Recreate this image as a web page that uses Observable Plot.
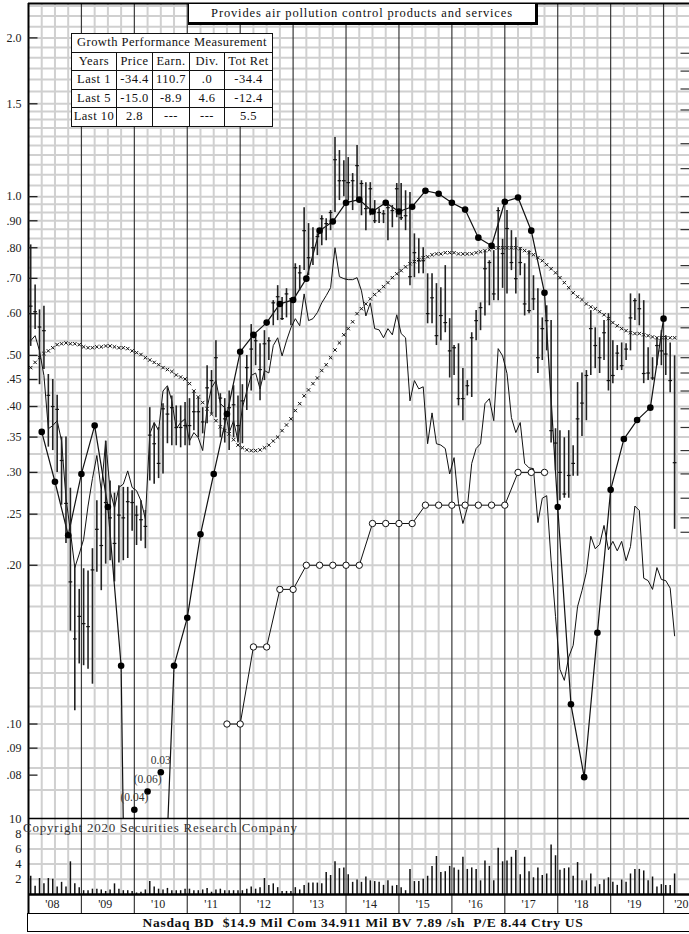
<!DOCTYPE html>
<html><head><meta charset="utf-8">
<script src="https://cdn.jsdelivr.net/npm/d3@7"></script>
<script src="https://cdn.jsdelivr.net/npm/@observablehq/plot@0.6"></script>
<style>
body{margin:0;background:#fff;}
#wrap{position:relative;width:689px;height:934px;overflow:hidden;font-family:"Liberation Serif","Times New Roman",serif;color:#111;}
#wrap svg{position:absolute;left:0;}
#title{position:absolute;left:188px;top:3px;width:346px;height:18px;border:1.5px solid #000;border-right-width:3px;border-bottom-width:3px;background:#fff;font-size:12.5px;letter-spacing:0.85px;text-align:center;line-height:18px;white-space:nowrap;}
#growth{position:absolute;left:71px;top:33px;border-collapse:collapse;background:#fff;table-layout:fixed;}
#growth td{border:1.5px solid #111;padding:0;height:17.5px;font-size:12.5px;letter-spacing:0.5px;text-align:center;line-height:17px;white-space:nowrap;overflow:hidden;}
#growth .hd{font-size:12.5px;letter-spacing:0.45px;text-align:center;}
#copy{position:absolute;left:23px;top:820px;font-size:13px;letter-spacing:0.8px;color:#333;white-space:nowrap;}
#info{position:absolute;left:27px;top:913px;width:670px;height:17px;border:1.5px solid #000;background:#fff;font-weight:bold;font-size:13.5px;letter-spacing:0.7px;line-height:17px;text-align:center;padding-right:12px;white-space:pre;}
</style></head><body><div id="wrap"></div>
<script>
// ---------- data ----------
const titleText = "Provides air pollution control products and services";
const infoText = "Nasdaq BD  $14.9 Mil Com 34.911 Mil BV 7.89 /sh  P/E 8.44 Ctry US";
const copyText = "Copyright 2020 Securities Research Company";
const growthTitle = "Growth Performance Measurement";
const growthHead = ["Years","Price","Earn.","Div.","Tot Ret"];
const growthRows = [
  ["Last 1","-34.4","110.7",".0","-34.4"],
  ["Last 5","-15.0","-8.9","4.6","-12.4"],
  ["Last 10","2.8","---","---","5.5"]
];
// monthly price bars, Jan 2008 .. Mar 2020
const hi = [0.81,0.68,0.61,0.62,0.46,0.45,0.42,0.35,0.35,0.28,0.20,0.18,
 0.197,0.195,0.215,0.265,0.277,0.344,0.289,0.274,0.283,0.281,0.281,0.277,
 0.259,0.265,0.254,0.398,0.372,0.365,0.405,0.434,0.419,0.401,0.401,0.407,
 0.414,0.428,0.416,0.398,0.478,0.468,0.533,0.423,0.414,0.428,0.438,0.419,
 0.44,0.50,0.572,0.55,0.526,0.557,0.54,0.635,0.678,0.644,0.669,0.64,
 0.746,0.74,0.953,0.889,0.873,0.85,0.92,0.908,0.941,1.294,1.223,1.17,
 1.186,1.106,1.25,1.072,1.063,1.063,0.983,0.949,0.941,0.97,0.962,1.059,
 1.059,1.026,1.018,0.85,0.832,0.80,0.714,0.714,0.684,0.672,0.74,0.587,
 0.522,0.526,0.472,0.448,0.552,0.608,0.629,0.79,0.756,0.79,0.953,0.83,
 0.941,0.862,0.836,0.80,0.746,0.79,0.708,0.669,0.589,0.621,0.582,0.363,
 0.36,0.349,0.36,0.337,0.444,0.463,0.468,0.608,0.564,0.54,0.582,0.60,
 0.533,0.522,0.528,0.526,0.654,0.64,0.654,0.635,0.517,0.495,0.54,0.557,
 0.545,0.528,0.499];
const lo = [0.52,0.56,0.44,0.47,0.335,0.33,0.30,0.26,0.22,0.15,0.106,0.13,
 0.129,0.127,0.119,0.194,0.179,0.201,0.204,0.186,0.202,0.204,0.206,0.232,
 0.218,0.222,0.215,0.289,0.285,0.292,0.298,0.340,0.337,0.337,0.334,0.337,
 0.337,0.360,0.349,0.355,0.371,0.387,0.381,0.349,0.341,0.330,0.349,0.341,
 0.34,0.393,0.428,0.478,0.41,0.448,0.489,0.569,0.582,0.582,0.589,0.569,
 0.635,0.663,0.724,0.708,0.74,0.773,0.807,0.825,0.862,0.933,0.983,1.0,
 0.983,0.941,0.983,0.92,0.862,0.92,0.889,0.889,0.889,0.825,0.873,0.912,
 0.901,0.862,0.678,0.702,0.714,0.714,0.574,0.574,0.522,0.533,0.552,0.453,
 0.458,0.401,0.376,0.419,0.416,0.533,0.557,0.594,0.621,0.635,0.635,0.67,
 0.654,0.724,0.654,0.708,0.594,0.60,0.608,0.462,0.489,0.51,0.341,0.302,
 0.265,0.268,0.268,0.295,0.295,0.351,0.376,0.458,0.472,0.462,0.489,0.428,
 0.442,0.468,0.468,0.489,0.51,0.582,0.569,0.442,0.448,0.448,0.478,0.478,
 0.458,0.425,0.234];
const cl = [0.62,0.605,0.566,0.557,0.42,0.40,0.395,0.316,0.262,0.186,0.145,0.16,
 0.155,0.153,0.196,0.234,0.218,0.263,0.246,0.220,0.249,0.246,0.264,0.263,
 0.249,0.244,0.237,0.353,0.340,0.312,0.396,0.387,0.398,0.365,0.365,0.368,
 0.368,0.391,0.391,0.374,0.434,0.448,0.495,0.415,0.379,0.398,0.403,0.368,
 0.41,0.474,0.514,0.533,0.47,0.526,0.533,0.629,0.646,0.587,0.654,0.64,
 0.733,0.717,0.862,0.766,0.80,0.84,0.908,0.889,0.933,1.175,1.072,1.072,
 1.063,1.072,1.145,1.059,0.949,1.035,0.90,0.933,0.928,0.953,0.941,1.035,
 0.912,0.92,0.705,0.783,0.756,0.756,0.60,0.643,0.545,0.595,0.577,0.51,
 0.517,0.414,0.414,0.438,0.54,0.582,0.616,0.73,0.75,0.654,0.941,0.78,
 0.87,0.75,0.699,0.75,0.626,0.608,0.64,0.495,0.562,0.582,0.36,0.341,
 0.30,0.273,0.296,0.312,0.379,0.406,0.458,0.562,0.522,0.495,0.552,0.448,
 0.458,0.505,0.478,0.514,0.589,0.635,0.613,0.462,0.463,0.453,0.522,0.51,
 0.503,0.448,0.313];
// moving average (x marks), monthly
const ma = [.474,.485,.495,.504,.51,.517,.524,.526,.528,.526,.526,.524,
 .519,.517,.517,.519,.519,.521,.521,.519,.517,.517,.515,.51,
 .506,.502,.495,.49,.485,.48,.474,.47,.466,.459,.455,.451,
 .442,.428,.417,.407,.396,.387,.376,.366,.36,.355,.346,.338,
 .334,.331,.33,.33,.331,.334,.338,.344,.35,.36,.369,.379,
 .393,.405,.419,.43,.442,.453,.468,.48,.495,.512,.528,.547,
 .562,.579,.60,.613,.626,.64,.652,.663,.675,.687,.702,.714,
 .724,.736,.746,.753,.759,.766,.769,.776,.779,.779,.783,.783,
 .783,.779,.779,.779,.779,.783,.786,.79,.793,.80,.80,.80,
 .80,.80,.80,.797,.79,.783,.776,.766,.756,.743,.73,.717,
 .702,.687,.672,.657,.646,.638,.626,.618,.613,.605,.597,.587,
 .577,.569,.562,.557,.552,.55,.55,.547,.545,.542,.54,.54,
 .54,.54,.54];
// relative strength (thin line), monthly
const rs = [.533,.545,.51,.458,.363,.368,.376,.344,.268,.232,.198,.21,
 .224,.259,.292,.323,.277,.344,.277,.257,.281,.285,.302,.281,
 .277,.265,.245,.355,.373,.36,.428,.438,.41,.363,.373,.379,
 .344,.357,.349,.33,.398,.434,.448,.405,.398,.357,.376,.344,
 .398,.428,.458,.463,.432,.468,.463,.522,.54,.499,.533,.564,
 .587,.569,.654,.582,.587,.603,.629,.649,.672,.80,.705,.699,
 .696,.696,.702,.663,.594,.629,.562,.559,.54,.562,.547,.597,
 .55,.54,.41,.448,.432,.436,.34,.389,.34,.338,.333,.298,
 .32,.262,.24,.257,.312,.333,.34,.405,.414,.376,.515,.499,
 .462,.381,.357,.373,.312,.306,.305,.241,.268,.271,.204,.16,
 .127,.121,.134,.141,.167,.179,.194,.227,.215,.219,.238,.214,
 .222,.213,.222,.204,.217,.259,.254,.189,.187,.18,.198,.188,
 .187,.181,.147];
// monthly volume
const vol = [2.4,1.1,2.1,1.4,2.1,2.0,1.0,1.6,1.0,4.3,1.4,0.9,
 0.5,0.5,0.7,0.7,0.6,0.4,0.6,1.4,0.7,0.5,0.5,0.4,
 0.2,0.3,0.6,1.7,1.0,0.7,0.6,0.8,0.5,0.5,0.5,0.7,
 0.7,0.5,0.5,0.6,0.8,0.3,0.6,0.7,0.5,0.5,0.5,0.5,
 0.5,0.7,1.0,0.7,0.9,2.1,1.2,1.4,0.9,0.4,0.4,0.4,
 0.9,0.6,1.2,1.5,1.5,1.5,1.4,2.9,2.5,4.3,3.4,3.5,
 2.6,1.6,1.9,1.6,2.3,1.8,1.7,1.6,1.2,1.8,1.1,1.2,
 0.9,0.5,3.3,1.7,1.7,2.0,2.4,3.7,5.0,2.9,3.0,3.7,
 3.5,3.2,4.9,3.3,3.5,3.3,1.8,4.4,3.7,1.8,6.1,4.3,
 4.4,4.9,5.8,2.6,4.9,3.0,2.2,3.5,2.5,2.7,6.5,5.1,
 3.2,3.4,3.5,2.4,4.2,1.8,1.8,2.7,1.0,1.3,1.9,2.2,
 1.6,1.2,1.9,1.6,2.7,3.3,3.3,3.1,1.8,2.3,1.0,1.3,
 1.2,1.2,2.7];
// quarterly earnings, 2008.25 .. 2020.0 (negatives shown as labelled dots)
const earnStart = 2008.25;
const earn = [0.358,0.288,0.228,0.298,0.368,0.258,0.129,-0.04,-0.06,0.03,0.129,0.159,
 0.229,0.298,0.387,0.508,0.547,0.577,0.626,0.637,0.699,0.862,0.897,0.974,
 0.987,0.937,0.974,0.937,0.957,1.026,1.013,0.974,0.945,0.836,0.807,0.978,
 0.996,0.862,0.657,0.258,0.109,0.0793,0.149,0.278,0.347,0.377,0.398,0.587];
const lowEarnQ = [2010.0, 2010.25, 2010.5];
const lowEarnPos = [0.0688, 0.0745, 0.081];
const lowEarnLabel = ["(0.04)", "(0.06)", "0.03"];
// quarterly dividends 2011.75 .. 2017.75
const divStart = 2011.75;
const divs = [0.10,0.10,0.14,0.14,0.18,0.18,0.20,0.20,0.20,0.20,0.20,0.24,0.24,0.24,0.24,
 0.26,0.26,0.26,0.26,0.26,0.26,0.26,0.30,0.30,0.30];
// axes / grid
const priceLabels = [2.0,1.5,1.0,0.9,0.8,0.7,0.6,0.5,0.45,0.4,0.35,0.3,0.25,0.2,0.1,0.09,0.08];
const priceGrid = [2.3,2.2,2.1,2.0,1.917,1.833,1.75,1.667,1.583,1.5,1.45,1.4,1.35,1.3,1.25,1.2,1.15,1.1,1.05,1.0,
 .967,.933,.90,.867,.833,.80,.767,.733,.70,.667,.633,.60,.567,.533,.50,.475,.45,.425,.40,.375,.35,.325,.30,.275,.25,.225,.20,
 .183,.167,.15,.133,.125,.117,.108,.10,.09,.0825,.075];
const rightTicks = [1.87,1.73,1.6,1.46,1.26,1.13,1.0,.933,.866,.74,.684,.616,.564,.495,.463,.428,.396,.365,.33,.298,.268,.246,.231];
const volTicks = [2,4,6,8,10];
const volGrid = [2,4,6,8];
const yearLabels = ["'08","'09","'10","'11","'12","'13","'14","'15","'16","'17","'18","'19","'20"];

// ---------- build ----------
const t0 = 2008, t1 = 2020.49;
const mt = i => 2008 + (i + 0.5) / 12;
const bars = hi.map((h, i) => ({t: mt(i), h, l: lo[i], c: cl[i]}));
const maD = ma.map((v, i) => ({t: mt(i), v}));
const rsD = rs.map((v, i) => ({t: mt(i), v}));
const volD = vol.map((v, i) => ({t: mt(i), v}));
const earnD = earn.map((v, i) => ({t: earnStart + 0.25 * i, v}));
const earnLine = earnD.map(d => ({t: d.t, v: d.v > 0 ? d.v : 0.002}));
const yMin = 0.0662, yMax = 2.324;
const earnDots = earnD.filter(d => d.v > yMin);
const lowEarn = lowEarnQ.map((t, i) => ({t, pos: lowEarnPos[i], label: lowEarnLabel[i]}));
const divD = divs.map((v, i) => ({t: divStart + 0.25 * i, v}));
const years = d3.range(2009, 2021);
const quarters = d3.range(2008.25, t1, 0.25).filter(q => q % 1 !== 0);
const yl = yearLabels.map((s, i) => ({t: 2008.45 + i, s}));
const ylMain = yl.slice(0, -1), ylLast = yl.slice(-1);
const fmt = d => d >= 1 ? d.toFixed(1) : "." + String(Math.round(d * 100)).padStart(2, "0");
const font = {background: "transparent", fontFamily: "Liberation Serif, Times New Roman, serif", fontSize: "12px", overflow: "visible", color: "#111"};
const GRID = "#d0d0d0", YEAR = "#3a3a3a";

const price = Plot.plot({
  width: 689, height: 818, marginLeft: 28, marginRight: 0, marginTop: 3, marginBottom: 0,
  style: font,
  x: {domain: [t0, t1], axis: null},
  y: {type: "log", domain: [yMin, yMax], axis: null},
  marks: [
    Plot.ruleX(quarters, {stroke: GRID, strokeWidth: 2}),
    Plot.ruleY(priceGrid, {stroke: GRID, strokeWidth: 2}),
    Plot.ruleX(years, {stroke: YEAR, strokeWidth: 1.2}),
    Plot.ruleX([t0], {stroke: "#000", strokeWidth: 2}),
    Plot.ruleY([yMax], {stroke: "#000", strokeWidth: 2}),
    Plot.text(priceLabels, {y: d => d, text: fmt, frameAnchor: "left", textAnchor: "end", dx: -7, fontSize: 12, fill: "#222"}),
    Plot.link(priceLabels, {x1: t0, x2: t0 + 0.17, y1: d => d, y2: d => d, stroke: "#222", strokeWidth: 1.3}),
    Plot.link(rightTicks, {x1: t1 - 0.17, x2: t1, y1: d => d, y2: d => d, stroke: "#333", strokeWidth: 1.2}),
    Plot.dot(maD, {x: "t", y: "v", symbol: "times", r: 1.7, stroke: "#111", strokeWidth: 1}),
    Plot.line(rsD, {x: "t", y: "v", stroke: "#111", strokeWidth: 1}),
    Plot.line(divD, {x: "t", y: "v", stroke: "#111", strokeWidth: 1}),
    Plot.dot(divD, {x: "t", y: "v", r: 3.2, fill: "white", stroke: "#111", strokeWidth: 1}),
    Plot.line(earnLine, {x: "t", y: "v", stroke: "#111", strokeWidth: 1.2, clip: true}),
    Plot.ruleX(bars, {x: "t", y1: "l", y2: "h", stroke: "#222", strokeWidth: 1.6}),
    Plot.link(bars, {x1: d => d.t - 0.035, x2: d => d.t + 0.035, y1: "c", y2: "c", stroke: "#111", strokeWidth: 1.2}),
    Plot.dot(earnDots, {x: "t", y: "v", r: 3.3, fill: "#000"}),
    Plot.dot(lowEarn, {x: "t", y: "pos", r: 3.3, fill: "#000"}),
    Plot.text(lowEarn, {x: "t", y: "pos", text: "label", dy: -12, fontSize: 11.5, fill: "#333"})
  ]
});
price.style.top = "0px";

const volume = Plot.plot({
  width: 689, height: 105, marginLeft: 28, marginRight: 0, marginTop: 10, marginBottom: 0,
  style: font,
  x: {domain: [t0, t1], axis: null},
  y: {domain: [-2.5, 10], axis: null},
  marks: [
    Plot.ruleX(quarters, {y1: 0, y2: 10, stroke: GRID, strokeWidth: 2}),
    Plot.ruleY(volGrid, {stroke: GRID, strokeWidth: 2}),
    Plot.ruleX(years, {stroke: YEAR, strokeWidth: 1.2}),
    Plot.ruleX([t0], {stroke: "#000", strokeWidth: 2}),
    Plot.ruleY([10], {stroke: "#000", strokeWidth: 1.6}),
    Plot.text(volTicks, {y: d => d, text: d => String(d), frameAnchor: "left", textAnchor: "end", dx: -7, fontSize: 12.5, fill: "#222"}),
    Plot.ruleX(volD, {x: "t", y1: 0, y2: "v", stroke: "#111", strokeWidth: 1.5}),
    Plot.ruleY([0], {stroke: "#000", strokeWidth: 2.5}),
    Plot.text(ylMain, {x: "t", y: -1.25, text: "s", fontSize: 12, fill: "#222"}),
    Plot.text(ylLast, {x: t1, y: -1.25, text: "s", textAnchor: "end", dx: -1, fontSize: 12, fill: "#222"})
  ]
});
volume.style.top = "808px";

const wrap = document.getElementById("wrap");
wrap.appendChild(price);
wrap.appendChild(volume);

const title = document.createElement("div");
title.id = "title"; title.textContent = titleText; wrap.appendChild(title);

const tbl = document.createElement("table");
tbl.id = "growth";
const widths = [45, 36, 37, 35, 48];
let html = "<colgroup>" + widths.map(w => `<col style="width:${w}px">`).join("") + "</colgroup>";
html += `<tr><td colspan="5" class="hd">${growthTitle}</td></tr>`;
html += "<tr>" + growthHead.map(h => `<td>${h}</td>`).join("") + "</tr>";
growthRows.forEach(r => { html += "<tr>" + r.map(c => `<td>${c}</td>`).join("") + "</tr>"; });
tbl.innerHTML = html;
wrap.appendChild(tbl);

const copy = document.createElement("div");
copy.id = "copy"; copy.textContent = copyText; wrap.appendChild(copy);

const info = document.createElement("div");
info.id = "info"; info.textContent = infoText; wrap.appendChild(info);
</script>
</body></html>
